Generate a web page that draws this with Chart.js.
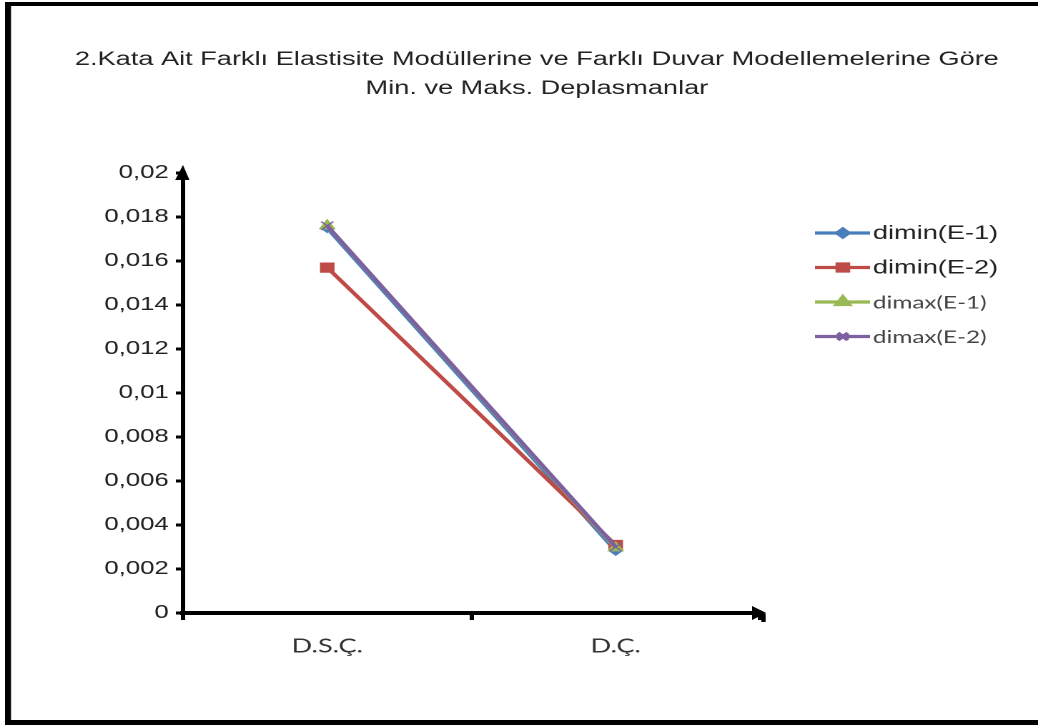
<!DOCTYPE html>
<html>
<head>
<meta charset="utf-8">
<script src="https://cdn.jsdelivr.net/npm/chart.js@4/dist/chart.umd.min.js"></script>
<style>
html,body{margin:0;padding:0;background:#fff;overflow:hidden;}
#c{display:block;}
</style>
</head>
<body>
<canvas id="c" width="726" height="726" style="width:1038px;height:726px;"></canvas>
<script>
const titleLines = ["2.Kata Ait Farklı Elastisite Modüllerine ve Farklı Duvar Modellemelerine Göre", "Min. ve Maks. Deplasmanlar"];
const categories = ["D.S.Ç.", "D.Ç."];
const seriesNames = ["dimin(E-1)", "dimin(E-2)", "dimax(E-1)", "dimax(E-2)"];
const diminE1 = [0.0175, 0.00283];
const diminE2 = [0.0157, 0.00309];
const dimaxE1 = [0.0176, 0.00296];
const dimaxE2 = [0.0176, 0.00300];
const yTicks = [0, 0.002, 0.004, 0.006, 0.008, 0.01, 0.012, 0.014, 0.016, 0.018, 0.02];

const colors = ["#4a7ebb", "#be4b48", "#98b954", "#7d60a0"];
const styles = ["rectRot", "rect", "triangle", "crossRot"];
const radii = [4.5, 6.5, 6, 6];
const orders = [4, 3, 2, 1];
const seriesData = [diminE1, diminE2, dimaxE1, dimaxE2];

function fmt(v){ return String(+v.toFixed(4)).replace('.', ','); }

const framePlugin = {
  id: 'frame',
  afterDraw(chart){
    const ctx = chart.ctx;
    const a = chart.chartArea;
    const W = chart.width;
    ctx.save();
    // outer frame (left, top, bottom)
    ctx.fillStyle = '#000';
    ctx.fillRect(3.5, 2, 4.2, 722);
    ctx.fillRect(3.5, 2, W, 4);
    ctx.fillRect(3.5, 720, W, 5);
    // title
    ctx.fillStyle = '#222';
    ctx.font = '19px "Liberation Sans", Arial, sans-serif';
    ctx.textAlign = 'center';
    ctx.textBaseline = 'middle';
    titleLines.forEach((t, i) => ctx.fillText(t, 375.5, 60 + i * 29));
    // arrows
    ctx.fillStyle = '#000';
    ctx.beginPath();
    ctx.moveTo(a.left, a.top - 8);
    ctx.lineTo(a.left - 5.5, a.top + 7);
    ctx.lineTo(a.left + 4.5, a.top + 7);
    ctx.closePath();
    ctx.fill();
    ctx.beginPath();
    ctx.moveTo(a.right + 4.5, a.bottom);
    ctx.lineTo(a.right - 5.5, a.bottom - 7);
    ctx.lineTo(a.right - 5.5, a.bottom + 7);
    ctx.closePath();
    ctx.fill();
    ctx.fillRect(a.right + 1, a.bottom + 1, 3, 8);
    // legend
    const lx = 570, ly0 = 233, step = 34.5;
    chart.data.datasets.forEach((ds, i) => {
      const y = ly0 + i * step;
      ctx.strokeStyle = ds.borderColor;
      ctx.lineWidth = 3.2;
      ctx.beginPath();
      ctx.moveTo(lx, y);
      ctx.lineTo(lx + 38.5, y);
      ctx.stroke();
      ctx.fillStyle = ds.borderColor;
      Chart.helpers.drawPoint(ctx, {pointStyle: ds.pointStyle, radius: ds.pointStyle === 'rectRot' ? 4 : 5, borderWidth: 1, rotation: 0}, lx + 19.5, y);
      ctx.fillStyle = i < 2 ? '#222' : '#444';
      ctx.font = i < 2 ? '19px "Liberation Sans", Arial, sans-serif' : '17px Lato, "Open Sans", sans-serif';
      ctx.textBaseline = 'middle';
      ctx.textAlign = 'left';
      ctx.fillText(ds.label, lx + 40.5, y + 1);
    });
    ctx.restore();
  }
};

const datasets = seriesNames.map((n, i) => ({
  label: n,
  data: seriesData[i],
  borderColor: colors[i],
  backgroundColor: colors[i],
  pointStyle: styles[i],
  pointRadius: radii[i],
  pointBorderColor: colors[i],
  pointBackgroundColor: colors[i],
  pointBorderWidth: styles[i] === 'crossRot' ? 1.2 : 1,
  borderWidth: 3.2,
  order: orders[i],
  tension: 0
}));

new Chart(document.getElementById('c'), {
  type: 'line',
  data: { labels: categories, datasets },
  options: {
    responsive: false,
    devicePixelRatio: 2,
    animation: false,
    layout: { padding: { top: 173, right: 194.5, left: 0, bottom: 0 } },
    plugins: {
      legend: { display: false },
      tooltip: { enabled: false },
      title: { display: false }
    },
    scales: {
      x: {
        type: 'category',
        offset: true,
        grid: { display: true, drawOnChartArea: false, offset: true, color: '#000', lineWidth: 3, tickLength: 7 },
        border: { display: true, color: '#000', width: 4 },
        ticks: { color: '#333', padding: 15, font: { family: 'Lato, "Open Sans", sans-serif', size: 19 } },
        afterFit(s){ s.height = 113; }
      },
      y: {
        min: 0, max: 0.02,
        afterBuildTicks(s){ s.ticks = yTicks.map(v => ({value: v})); },
        grid: { display: true, drawOnChartArea: false, color: '#000', lineWidth: 3, tickLength: 5 },
        border: { display: true, color: '#000', width: 3 },
        ticks: { color: '#222', padding: 5, font: { family: '"Liberation Sans", Arial, sans-serif', size: 18 }, callback: v => fmt(v) },
        afterFit(s){ s.width = 128; }
      }
    }
  },
  plugins: [framePlugin]
});
</script>
</body>
</html>
